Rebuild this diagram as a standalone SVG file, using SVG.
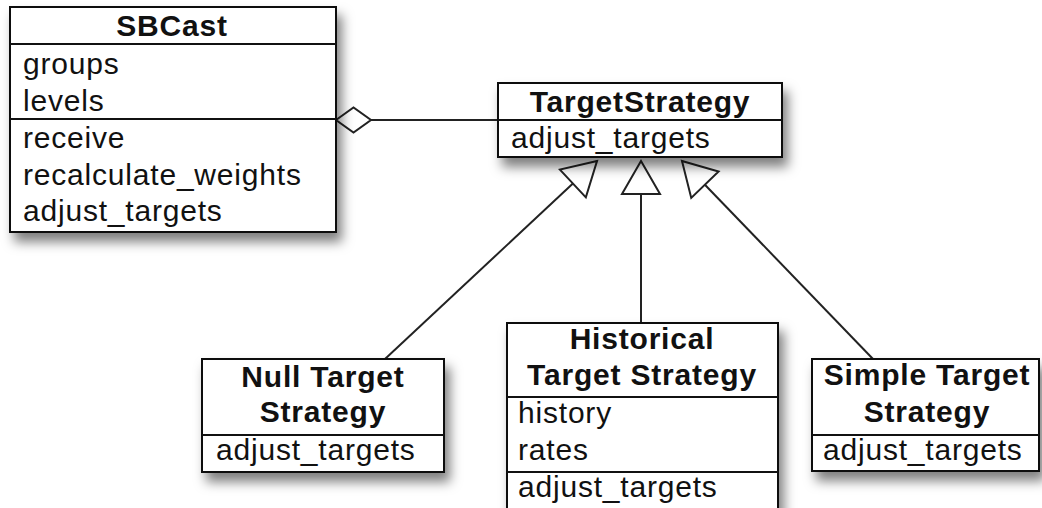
<svg xmlns="http://www.w3.org/2000/svg" width="1042" height="508" viewBox="0 0 1042 508">
<style>
  .box { fill: #fff; stroke: #111; stroke-width: 2; }
  .div { stroke: #111; stroke-width: 2; }
  .t { font-family: "Liberation Sans", Arial, sans-serif; font-size: 30px; fill: #111; letter-spacing: 0.8px; }
  .b { font-weight: bold; text-anchor: middle; }
  .edge { stroke: #222; stroke-width: 2; fill: none; }
</style>
<defs>
  <filter id="sh" x="-20%" y="-20%" width="150%" height="170%">
    <feDropShadow dx="5" dy="9" stdDeviation="6" flood-color="#000" flood-opacity="0.5"/>
  </filter>
  <marker id="tri" markerUnits="userSpaceOnUse" viewBox="0 -21 36 42" markerWidth="36" markerHeight="42" refX="34" refY="0" orient="auto" overflow="visible">
    <path d="M34,0 L1,-19 L1,19 Z" fill="#fff" stroke="#222" stroke-width="2"/>
  </marker>
  <marker id="dia" markerUnits="userSpaceOnUse" viewBox="-1 -14 38 28" markerWidth="38" markerHeight="28" refX="0" refY="0" orient="auto" overflow="visible">
    <path d="M0,0 L17.5,-12.5 L35,0 L17.5,12.5 Z" fill="#fff" stroke="#222" stroke-width="2"/>
  </marker>
</defs>

<g id="connectors">
  <line class="edge" x1="336" y1="120" x2="498" y2="120" marker-start="url(#dia)"/>
  <line class="edge" x1="385" y1="359" x2="597" y2="161" marker-end="url(#tri)"/>
  <line class="edge" x1="641" y1="323" x2="641" y2="161" marker-end="url(#tri)"/>
  <line class="edge" x1="873" y1="359" x2="682" y2="161" marker-end="url(#tri)"/>
</g>

<g id="SBCast">
  <rect class="box" x="10" y="7" width="326" height="225" filter="url(#sh)"/>
  <line class="div" x1="10" y1="44" x2="336" y2="44"/>
  <line class="div" x1="10" y1="119" x2="336" y2="119"/>
  <text class="t b" x="172" y="36">SBCast</text>
  <text class="t" x="23" y="74">groups</text>
  <text class="t" x="23" y="111">levels</text>
  <text class="t" x="23" y="148">receive</text>
  <text class="t" x="23" y="185">recalculate_weights</text>
  <text class="t" x="23" y="221">adjust_targets</text>
</g>

<g id="TargetStrategy">
  <rect class="box" x="498" y="83" width="284" height="74" filter="url(#sh)"/>
  <line class="div" x1="498" y1="120" x2="782" y2="120"/>
  <text class="t b" x="640" y="112">TargetStrategy</text>
  <text class="t" x="511" y="148">adjust_targets</text>
</g>

<g id="NullTargetStrategy">
  <rect class="box" x="202" y="359" width="242" height="113" filter="url(#sh)"/>
  <line class="div" x1="202" y1="435" x2="444" y2="435"/>
  <text class="t b" x="323" y="387">Null Target</text>
  <text class="t b" x="323" y="422">Strategy</text>
  <text class="t" x="216" y="460">adjust_targets</text>
</g>

<g id="HistoricalTargetStrategy">
  <rect class="box" x="507" y="323" width="271" height="200" filter="url(#sh)"/>
  <line class="div" x1="507" y1="397" x2="778" y2="397"/>
  <line class="div" x1="507" y1="472" x2="778" y2="472"/>
  <text class="t b" x="642" y="349">Historical</text>
  <text class="t b" x="642" y="385">Target Strategy</text>
  <text class="t" x="518" y="423">history</text>
  <text class="t" x="518" y="460">rates</text>
  <text class="t" x="518" y="497">adjust_targets</text>
</g>

<g id="SimpleTargetStrategy">
  <rect class="box" x="812" y="359" width="227" height="112" filter="url(#sh)"/>
  <line class="div" x1="812" y1="435" x2="1039" y2="435"/>
  <text class="t b" x="927" y="385">Simple Target</text>
  <text class="t b" x="927" y="422">Strategy</text>
  <text class="t" x="823" y="460">adjust_targets</text>
</g>
</svg>
